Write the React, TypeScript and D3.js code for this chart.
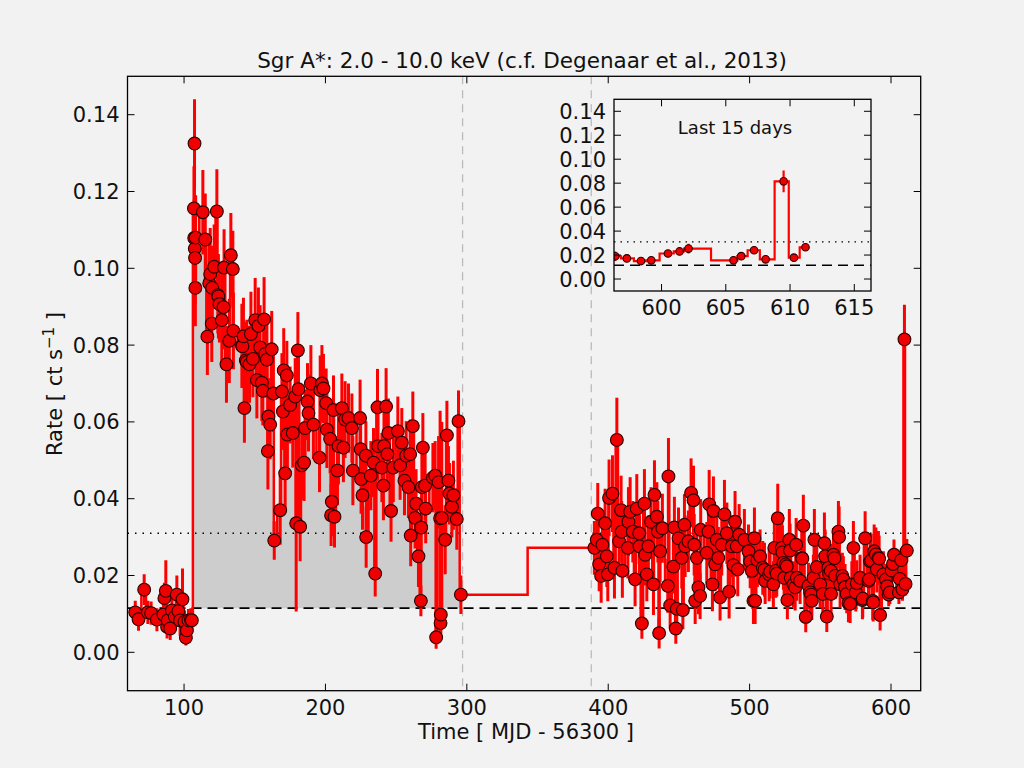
import React from 'react';
import * as d3 from 'd3';

// [time (MJD - 56300), rate (ct/s), 1-sigma error]
type Obs = [number, number, number];

const quiescence: Obs[] = [
  [65.5, 0.0104, 0.003], [67.8, 0.0086, 0.003], [71.8, 0.0163, 0.004], [74.4, 0.0104, 0.003],
  [76.7, 0.0102, 0.003], [80.8, 0.0085, 0.003], [85.4, 0.0098, 0.003], [86.1, 0.0141, 0.004],
  [87.1, 0.016, 0.008], [88.0, 0.0066, 0.003], [88.5, 0.0083, 0.003], [90.2, 0.0062, 0.003],
  [91.4, 0.0109, 0.004], [93.5, 0.0093, 0.003], [94.9, 0.015, 0.005], [96.0, 0.0107, 0.004],
  [97.2, 0.0083, 0.004], [98.9, 0.0138, 0.008], [100.3, 0.0079, 0.003], [101.3, 0.0038, 0.002],
  [102.0, 0.0057, 0.003], [103.1, 0.0083, 0.003], [104.8, 0.0085, 0.003], [105.5, 0.0083, 0.003],
];

const outburst: Obs[] = [
  [107.0, 0.1156, 0.011], [107.2, 0.1079, 0.010], [107.4, 0.1325, 0.0115], [107.6, 0.1051, 0.010],
  [107.8, 0.1027, 0.012], [108.0, 0.0949, 0.010], [108.2, 0.108, 0.011], [113.3, 0.1146, 0.011],
  [115.0, 0.1075, 0.012], [116.5, 0.0822, 0.010], [117.8, 0.0961, 0.011], [118.5, 0.0985, 0.012],
  [119.6, 0.0856, 0.010], [119.9, 0.0949, 0.011], [121.3, 0.1004, 0.011], [123.2, 0.1148, 0.011],
  [123.9, 0.093, 0.010], [124.3, 0.0927, 0.011], [125.0, 0.0907, 0.010], [126.7, 0.0865, 0.012],
  [127.9, 0.0899, 0.011], [128.3, 0.1002, 0.010], [130.0, 0.075, 0.010], [132.0, 0.0811, 0.011],
  [133.1, 0.1034, 0.011], [134.5, 0.0998, 0.010], [134.9, 0.0837, 0.010], [140.9, 0.0798, 0.011],
  [141.3, 0.0797, 0.010], [142.0, 0.0823, 0.010], [142.7, 0.0636, 0.009], [143.7, 0.076, 0.010],
  [144.4, 0.0756, 0.011], [146.3, 0.075, 0.010], [147.3, 0.0829, 0.011], [148.7, 0.0764, 0.010],
  [150.3, 0.0865, 0.011], [151.5, 0.0709, 0.010], [152.6, 0.085, 0.010], [153.8, 0.0794, 0.011],
  [155.0, 0.0702, 0.010], [155.7, 0.0681, 0.009], [156.6, 0.0867, 0.011], [157.4, 0.0777, 0.010],
  [158.6, 0.0762, 0.010], [159.3, 0.0524, 0.010], [159.7, 0.0614, 0.010], [160.9, 0.0593, 0.009],
  [162.0, 0.0789, 0.010], [163.2, 0.0674, 0.010], [163.8, 0.0291, 0.005], [168.0, 0.037, 0.009],
  [169.2, 0.0679, 0.010], [169.9, 0.0627, 0.010], [170.5, 0.0734, 0.011], [171.5, 0.0466, 0.010],
  [172.7, 0.0721, 0.009], [173.1, 0.0567, 0.010], [175.0, 0.0644, 0.010], [176.9, 0.0571, 0.009],
  [178.6, 0.0666, 0.010], [179.3, 0.0336, 0.023], [180.5, 0.0786, 0.010], [180.9, 0.0685, 0.010],
  [182.1, 0.0327, 0.009], [183.3, 0.0487, 0.009], [184.9, 0.0494, 0.010], [185.6, 0.0584, 0.010],
  [187.3, 0.0653, 0.010], [188.0, 0.0623, 0.010], [189.7, 0.07, 0.010], [191.5, 0.0593, 0.009],
  [195.8, 0.0507, 0.009], [196.3, 0.0683, 0.009], [197.5, 0.07, 0.010], [198.6, 0.0687, 0.009],
  [200.5, 0.0649, 0.009], [201.0, 0.058, 0.010], [203.3, 0.0556, 0.009], [204.0, 0.0357, 0.008],
  [204.5, 0.0392, 0.009], [205.7, 0.0631, 0.009], [206.4, 0.0353, 0.008], [208.5, 0.0473, 0.009],
  [209.2, 0.0537, 0.010], [211.6, 0.0636, 0.009], [212.7, 0.0533, 0.009], [213.9, 0.0606, 0.010],
  [216.3, 0.061, 0.009], [218.7, 0.0584, 0.009], [219.4, 0.0473, 0.009], [224.5, 0.061, 0.010],
  [224.9, 0.0529, 0.009], [225.2, 0.0451, 0.009], [226.2, 0.0409, 0.009], [228.6, 0.0512, 0.009],
  [228.8, 0.03, 0.008], [232.1, 0.046, 0.009], [234.0, 0.0494, 0.009], [235.2, 0.0205, 0.006],
  [236.8, 0.0638, 0.010], [237.2, 0.0537, 0.009], [239.9, 0.0481, 0.009], [241.0, 0.0434, 0.009],
  [241.4, 0.0537, 0.009], [242.9, 0.064, 0.010], [243.8, 0.0516, 0.009], [244.5, 0.0571, 0.009],
  [246.4, 0.0368, 0.008], [248.0, 0.0481, 0.009], [251.2, 0.0576, 0.009], [252.8, 0.0487, 0.009],
  [254.0, 0.0546, 0.009], [255.9, 0.0447, 0.009], [257.1, 0.0512, 0.009], [258.7, 0.043, 0.008],
  [259.9, 0.0516, 0.009], [260.3, 0.0304, 0.008], [261.8, 0.0589, 0.009], [263.4, 0.035, 0.008],
  [264.1, 0.0387, 0.009], [265.8, 0.025, 0.008], [267.5, 0.0134, 0.004], [267.7, 0.0325, 0.008],
  [268.2, 0.043, 0.009], [268.9, 0.0533, 0.009], [270.5, 0.0434, 0.009], [270.9, 0.0374, 0.009],
  [276.0, 0.0455, 0.009], [277.6, 0.046, 0.009], [278.3, 0.0039, 0.003], [280.0, 0.0443, 0.012],
  [281.1, 0.0349, 0.028], [281.4, 0.0076, 0.004], [281.6, 0.0098, 0.005], [282.3, 0.035, 0.025],
  [284.7, 0.0293, 0.009], [285.9, 0.0565, 0.009], [287.0, 0.0447, 0.009], [287.7, 0.0413, 0.008],
  [289.4, 0.0379, 0.008], [290.5, 0.0409, 0.009], [292.9, 0.0347, 0.008], [294.1, 0.0602, 0.008],
  [295.8, 0.015, 0.005],
];

const monitoring: Obs[] = [
  [390.2, 0.0272, 0.007], [391.9, 0.0293, 0.008], [392.6, 0.0361, 0.008], [393.6, 0.0229, 0.007],
  [395.0, 0.0199, 0.007], [395.9, 0.028, 0.008], [397.8, 0.0336, 0.009], [399.0, 0.025, 0.008],
  [399.7, 0.0203, 0.007], [400.6, 0.0402, 0.010], [403.0, 0.0413, 0.010], [404.4, 0.022, 0.008],
  [406.1, 0.0553, 0.011], [407.7, 0.0289, 0.008], [409.1, 0.037, 0.009], [409.5, 0.0314, 0.008],
  [410.0, 0.0212, 0.007], [413.9, 0.0272, 0.008], [414.3, 0.034, 0.009], [415.5, 0.0366, 0.009],
  [417.4, 0.0314, 0.008], [419.0, 0.019, 0.007], [420.2, 0.0374, 0.009], [421.9, 0.031, 0.008],
  [422.1, 0.0276, 0.008], [423.8, 0.0075, 0.004], [425.6, 0.0387, 0.009], [426.1, 0.0254, 0.008],
  [427.3, 0.0203, 0.007], [428.4, 0.0276, 0.008], [430.3, 0.034, 0.009], [432.0, 0.0177, 0.008],
  [432.7, 0.041, 0.009], [434.4, 0.0353, 0.009], [435.1, 0.0314, 0.008], [436.0, 0.005, 0.004],
  [436.7, 0.0263, 0.008], [438.3, 0.0323, 0.009], [442.1, 0.0173, 0.007], [442.6, 0.0458, 0.010],
  [443.8, 0.0122, 0.006], [446.1, 0.0223, 0.007], [446.8, 0.0325, 0.008], [447.8, 0.0062, 0.004],
  [448.5, 0.0113, 0.006], [449.7, 0.0297, 0.008], [452.0, 0.0246, 0.008], [452.8, 0.011, 0.005],
  [453.9, 0.0332, 0.008], [454.4, 0.0276, 0.008], [456.7, 0.0289, 0.008], [458.6, 0.0415, 0.009],
  [460.3, 0.0396, 0.009], [460.8, 0.028, 0.008], [461.5, 0.0134, 0.006], [462.7, 0.0246, 0.008],
  [463.8, 0.0169, 0.007], [465.0, 0.0147, 0.006], [465.4, 0.0319, 0.008], [469.7, 0.0259, 0.008],
  [470.9, 0.0314, 0.008], [471.4, 0.0385, 0.009], [473.7, 0.0177, 0.007], [474.4, 0.0368, 0.009],
  [475.6, 0.0229, 0.007], [476.8, 0.0293, 0.008], [477.9, 0.0246, 0.008], [479.1, 0.0143, 0.006],
  [480.3, 0.028, 0.008], [482.2, 0.0359, 0.009], [483.9, 0.031, 0.008], [485.5, 0.0158, 0.007],
  [487.4, 0.0276, 0.008], [488.5, 0.0227, 0.007], [489.7, 0.034, 0.008], [490.9, 0.0276, 0.008],
  [491.6, 0.0216, 0.007], [492.6, 0.0306, 0.008], [496.3, 0.0293, 0.008], [499.2, 0.0263, 0.007],
  [500.4, 0.0237, 0.007], [501.6, 0.0212, 0.007], [502.7, 0.0134, 0.006], [503.4, 0.0297, 0.008],
  [503.9, 0.0134, 0.006], [505.5, 0.024, 0.007], [507.4, 0.025, 0.007], [509.3, 0.022, 0.007],
  [510.5, 0.0215, 0.007], [511.0, 0.0186, 0.006], [513.8, 0.0203, 0.007], [514.5, 0.021, 0.007],
  [516.8, 0.0177, 0.006], [517.5, 0.0272, 0.008], [518.5, 0.0212, 0.007], [519.2, 0.0205, 0.006],
  [519.9, 0.0349, 0.009], [522.8, 0.0272, 0.007], [523.2, 0.026, 0.007], [523.9, 0.0233, 0.007],
  [524.4, 0.0194, 0.006], [525.6, 0.0229, 0.007], [526.3, 0.0224, 0.007], [526.7, 0.0136, 0.005],
  [528.1, 0.0293, 0.008], [528.6, 0.0265, 0.007], [529.1, 0.0194, 0.006], [531.0, 0.0177, 0.006],
  [532.2, 0.0169, 0.006], [532.9, 0.028, 0.007], [533.4, 0.0194, 0.006], [535.7, 0.0186, 0.006],
  [536.9, 0.0246, 0.007], [537.3, 0.0244, 0.007], [538.0, 0.033, 0.008], [539.7, 0.0092, 0.004],
  [541.6, 0.0173, 0.006], [542.8, 0.0156, 0.006], [543.5, 0.015, 0.006], [544.0, 0.0134, 0.005],
  [545.1, 0.0194, 0.006], [545.8, 0.0293, 0.008], [547.5, 0.0222, 0.007], [549.9, 0.0177, 0.006],
  [551.8, 0.0152, 0.006], [552.9, 0.0284, 0.008], [553.4, 0.025, 0.007], [554.6, 0.0093, 0.004],
  [555.7, 0.022, 0.006], [556.2, 0.0205, 0.006], [557.4, 0.0212, 0.007], [557.6, 0.0152, 0.006],
  [559.3, 0.0254, 0.007], [560.0, 0.0245, 0.007], [560.5, 0.0199, 0.006], [562.8, 0.0314, 0.008],
  [563.3, 0.03, 0.008], [564.0, 0.0177, 0.006], [565.6, 0.0199, 0.006], [566.3, 0.019, 0.006],
  [567.5, 0.017, 0.006], [568.7, 0.0152, 0.005], [569.9, 0.0128, 0.005], [571.1, 0.0126, 0.005],
  [572.3, 0.0177, 0.006], [573.4, 0.0272, 0.007], [575.1, 0.0156, 0.005], [575.8, 0.018, 0.006],
  [578.1, 0.0194, 0.006], [579.8, 0.0136, 0.005], [580.0, 0.014, 0.005], [581.7, 0.0297, 0.007],
  [584.0, 0.0186, 0.006], [584.5, 0.019, 0.006], [585.2, 0.0237, 0.007], [586.0, 0.0239, 0.007],
  [587.1, 0.0134, 0.005], [587.4, 0.013, 0.005], [588.1, 0.0263, 0.007], [589.3, 0.0255, 0.007],
  [590.0, 0.0216, 0.006], [591.1, 0.0246, 0.007], [591.6, 0.0244, 0.006], [592.3, 0.0097, 0.004],
  [594.6, 0.0203, 0.006], [596.4, 0.019, 0.004], [597.3, 0.0172, 0.003], [598.4, 0.015, 0.003],
  [599.2, 0.0156, 0.003], [600.5, 0.0213, 0.003], [601.4, 0.023, 0.003], [602.1, 0.0254, 0.004],
  [605.6, 0.0156, 0.003], [606.2, 0.0191, 0.003], [607.2, 0.024, 0.003], [608.1, 0.0164, 0.003],
  [609.5, 0.0815, 0.009], [610.3, 0.0178, 0.003], [611.2, 0.0265, 0.003],
];

const baselineRate = 0.0115;
const meanRate = 0.031;
const gapEdges = [297, 388];
const xTicks = [100, 200, 300, 400, 500, 600];
const yTicks = [0, 0.02, 0.04, 0.06, 0.08, 0.1, 0.12, 0.14];
const insetXTicks = [600, 605, 610, 615];

const FONT = 'DejaVu Sans, sans-serif';
const RED = '#ff0000';

type Scale = d3.ScaleLinear<number, number>;

const Series = ({ data, x, y, r, bar, line }: { data: Obs[]; x: Scale; y: Scale; r: number; bar: number; line: number }) => {
  const path = d3
    .line<Obs>()
    .x((d) => x(d[0]))
    .y((d) => y(d[1]))
    .curve(d3.curveStep)(data);
  return (
    <g>
      <path d={path || ''} fill="none" stroke={RED} strokeWidth={line} />
      {data.map((d, i) => (
        <line key={`e${i}`} x1={x(d[0])} x2={x(d[0])} y1={y(d[1] - d[2])} y2={y(d[1] + d[2])} stroke={RED} strokeWidth={bar} />
      ))}
      {data.map((d, i) => (
        <circle key={`m${i}`} cx={x(d[0])} cy={y(d[1])} r={r} fill="#ee0000" stroke="#2a0000" strokeWidth={1.1} />
      ))}
    </g>
  );
};

const Frame = ({ x, y, xt, yt, tick }: { x: Scale; y: Scale; xt: number[]; yt: number[]; tick: number }) => {
  const [x0, x1] = x.range();
  const [y0, y1] = y.range();
  return (
    <g fontFamily={FONT} fontSize={21} fill="#111">
      {xt.map((t) => (
        <g key={`x${t}`}>
          <line x1={x(t)} x2={x(t)} y1={y0} y2={y0 - tick} stroke="#000" />
          <line x1={x(t)} x2={x(t)} y1={y1} y2={y1 + tick} stroke="#000" />
          <text x={x(t)} y={y0 + 24} textAnchor="middle">{t}</text>
        </g>
      ))}
      {yt.map((t) => (
        <g key={`y${t}`}>
          <line x1={x0} x2={x0 + tick} y1={y(t)} y2={y(t)} stroke="#000" />
          <line x1={x1} x2={x1 - tick} y1={y(t)} y2={y(t)} stroke="#000" />
          <text x={x0 - 8} y={y(t) + 7.5} textAnchor="end">{d3.format('.2f')(t)}</text>
        </g>
      ))}
      <rect x={x0} y={y1} width={x1 - x0} height={y0 - y1} fill="none" stroke="#000" strokeWidth={1.3} />
    </g>
  );
};

const App = () => {
  const x = d3.scaleLinear().domain([60, 621]).range([127.5, 920.7]);
  const y = d3.scaleLinear().domain([-0.01, 0.15]).range([690.7, 76.3]);
  const ix = d3.scaleLinear().domain([596.3, 616.3]).range([614, 871]);
  const iy = d3.scaleLinear().domain([-0.01, 0.15]).range([291, 99.3]);

  const all = [...quiescence, ...outburst, ...monitoring];
  const lastDays = monitoring.filter((d) => d[0] > 594);

  const fill = d3
    .area<Obs>()
    .x((d) => x(d[0]))
    .y0(y(baselineRate))
    .y1((d) => y(d[1]))
    .curve(d3.curveStep)(outburst);

  return (
    <div style={{ position: 'fixed', left: 0, top: 0, width: 1024, height: 768, background: '#f2f2f2' }}>
      <svg width={1024} height={768} viewBox="0 0 1024 768">
        <defs>
          <clipPath id="main-clip">
            <rect x={127.5} y={76.3} width={793.2} height={614.4} />
          </clipPath>
          <clipPath id="inset-clip">
            <rect x={614} y={99.3} width={257} height={191.7} />
          </clipPath>
        </defs>
        <text x={522} y={68} textAnchor="middle" fontFamily={FONT} fontSize={21.5} fill="#111">
          Sgr A*: 2.0 - 10.0 keV (c.f. Degenaar et al., 2013)
        </text>
        <g clipPath="url(#main-clip)">
          {gapEdges.map((g) => (
            <line key={g} x1={x(g)} x2={x(g)} y1={y(0.15)} y2={y(-0.01)} stroke="#bbb" strokeWidth={1.3} strokeDasharray="8 6" />
          ))}
          <path d={fill || ''} fill="#cdcdcd" />
          <line x1={x(60)} x2={x(621)} y1={y(meanRate)} y2={y(meanRate)} stroke="#000" strokeWidth={1.3} strokeDasharray="1.5 6" />
          <line x1={x(60)} x2={x(621)} y1={y(baselineRate)} y2={y(baselineRate)} stroke="#000" strokeWidth={1.6} strokeDasharray="10 6" />
          <Series data={all} x={x} y={y} r={6.4} bar={3} line={2.5} />
        </g>
        <Frame x={x} y={y} xt={xTicks} yt={yTicks} tick={7} />
        <text x={526} y={739} textAnchor="middle" fontFamily={FONT} fontSize={21} fill="#111">
          Time [ MJD - 56300 ]
        </text>
        <text transform="translate(62,384) rotate(-90)" textAnchor="middle" fontFamily={FONT} fontSize={21} fill="#111">
          Rate [ ct s<tspan dy={-8} fontSize={15}>−1</tspan><tspan dy={8}> ]</tspan>
        </text>

        <rect x={614} y={99.3} width={257} height={191.7} fill="#f2f2f2" />
        <g clipPath="url(#inset-clip)">
          <line x1={614} x2={871} y1={iy(meanRate)} y2={iy(meanRate)} stroke="#000" strokeWidth={1.3} strokeDasharray="1.5 5" />
          <line x1={614} x2={871} y1={iy(baselineRate)} y2={iy(baselineRate)} stroke="#000" strokeWidth={1.6} strokeDasharray="10 6" />
          <Series data={lastDays} x={ix} y={iy} r={3.8} bar={2.2} line={2.2} />
        </g>
        <Frame x={ix} y={iy} xt={insetXTicks} yt={yTicks} tick={7} />
        <text x={735} y={134} textAnchor="middle" fontFamily={FONT} fontSize={18} fill="#111">
          Last 15 days
        </text>
      </svg>
    </div>
  );
};

export default App;
